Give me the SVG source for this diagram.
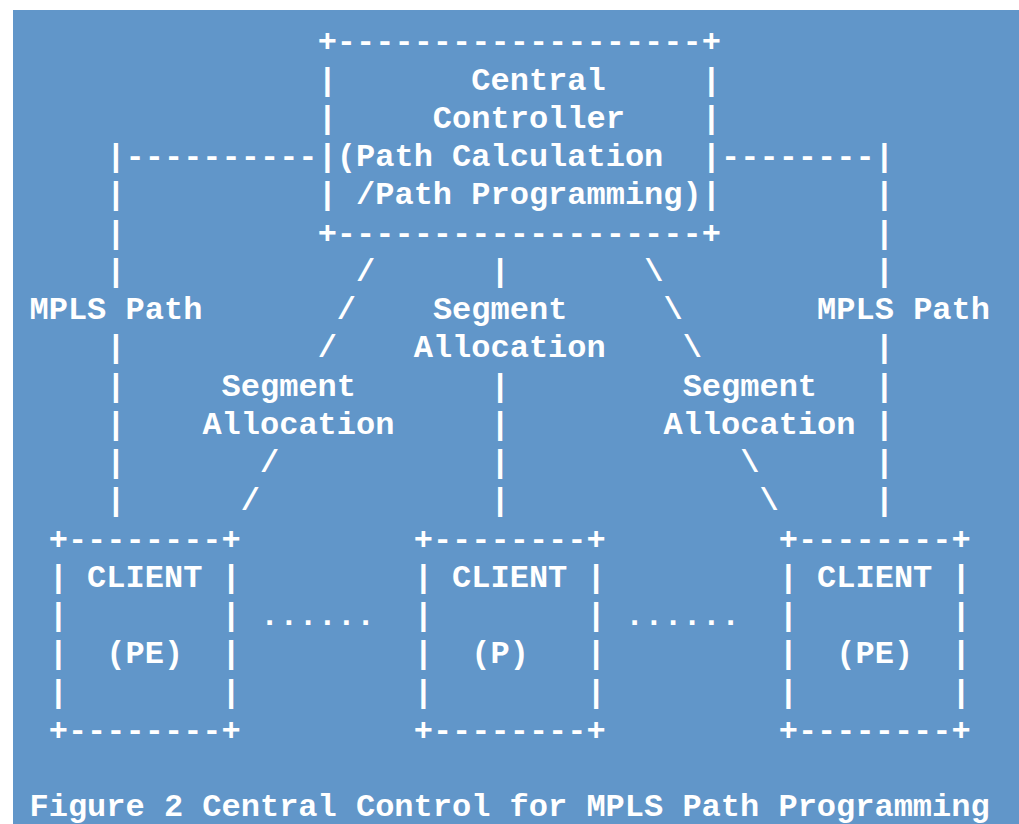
<svg xmlns="http://www.w3.org/2000/svg" width="1019" height="824" viewBox="0 0 1019 824" xml:space="preserve">
<style>
text{font-family:"Liberation Mono","Courier New",monospace;font-size:32px;font-weight:bold;fill:#ffffff;white-space:pre}
</style>
<rect x="0" y="0" width="1019" height="824" fill="#ffffff"/>
<rect x="13" y="10" width="1006" height="814" fill="#6196c9"/>
<g transform="translate(0,1.5)">
<g id="controller">
<text x="317.65" y="49.75">+-------------------+</text>
<text x="317.65" y="88">|       Central     |</text>
<text x="317.65" y="126.25">|     Controller    |</text>
<text x="317.65" y="164.5">|(Path Calculation  |</text>
<text x="317.65" y="202.75">| /Path Programming)|</text>
<text x="317.65" y="241">+-------------------+</text>
</g>
<g id="client-pe-left">
<text x="48.71" y="547">+--------+</text>
<text x="48.71" y="585.25">| CLIENT |</text>
<text x="48.71" y="623.5">|        |</text>
<text x="48.71" y="661.75">|  (PE)  |</text>
<text x="48.71" y="700">|        |</text>
<text x="48.71" y="738.25">+--------+</text>
</g>
<g id="client-p">
<text x="413.7" y="547">+--------+</text>
<text x="413.7" y="585.25">| CLIENT |</text>
<text x="413.7" y="623.5">|        |</text>
<text x="413.7" y="661.75">|  (P)   |</text>
<text x="413.7" y="700">|        |</text>
<text x="413.7" y="738.25">+--------+</text>
</g>
<g id="client-pe-right">
<text x="778.69" y="547">+--------+</text>
<text x="778.69" y="585.25">| CLIENT |</text>
<text x="778.69" y="623.5">|        |</text>
<text x="778.69" y="661.75">|  (PE)  |</text>
<text x="778.69" y="700">|        |</text>
<text x="778.69" y="738.25">+--------+</text>
</g>
<g id="connectors">
<text x="106.34" y="164.5">|----------</text>
<text x="721.06" y="164.5">--------|</text>
<text x="106.34" y="202.75">|</text><text x="874.74" y="202.75">|</text>
<text x="106.34" y="241">|</text><text x="874.74" y="241">|</text>
<text x="106.34" y="279.25">|</text><text x="874.74" y="279.25">|</text>
<text x="106.34" y="355.75">|</text><text x="874.74" y="355.75">|</text>
<text x="106.34" y="394">|</text><text x="874.74" y="394">|</text>
<text x="106.34" y="432.25">|</text><text x="874.74" y="432.25">|</text>
<text x="106.34" y="470.5">|</text><text x="874.74" y="470.5">|</text>
<text x="106.34" y="508.75">|</text><text x="874.74" y="508.75">|</text>
<text x="490.54" y="279.25">|</text>
<text x="490.54" y="394">|</text>
<text x="490.54" y="432.25">|</text>
<text x="490.54" y="470.5">|</text>
<text x="490.54" y="508.75">|</text>
<text x="356.07" y="279.25">/</text>
<text x="336.86" y="317.5">/</text>
<text x="317.65" y="355.75">/</text>
<text x="260.02" y="470.5">/</text>
<text x="240.81" y="508.75">/</text>
<text x="644.22" y="279.25">\</text>
<text x="663.43" y="317.5">\</text>
<text x="682.64" y="355.75">\</text>
<text x="740.27" y="470.5">\</text>
<text x="759.48" y="508.75">\</text>
<text x="260.02" y="623.5">......</text>
<text x="625.01" y="623.5">......</text>
</g>
<g id="labels">
<text x="29.5" y="317.5">MPLS Path</text>
<text x="817.11" y="317.5">MPLS Path</text>
<text x="432.91" y="317.5">Segment</text>
<text x="413.7" y="355.75">Allocation</text>
<text x="221.6" y="394">Segment</text>
<text x="202.39" y="432.25">Allocation</text>
<text x="682.64" y="394">Segment</text>
<text x="663.43" y="432.25">Allocation</text>
<text x="29.5" y="814.75">Figure 2 Central Control for MPLS Path Programming</text>
</g>
</g>
</svg>
